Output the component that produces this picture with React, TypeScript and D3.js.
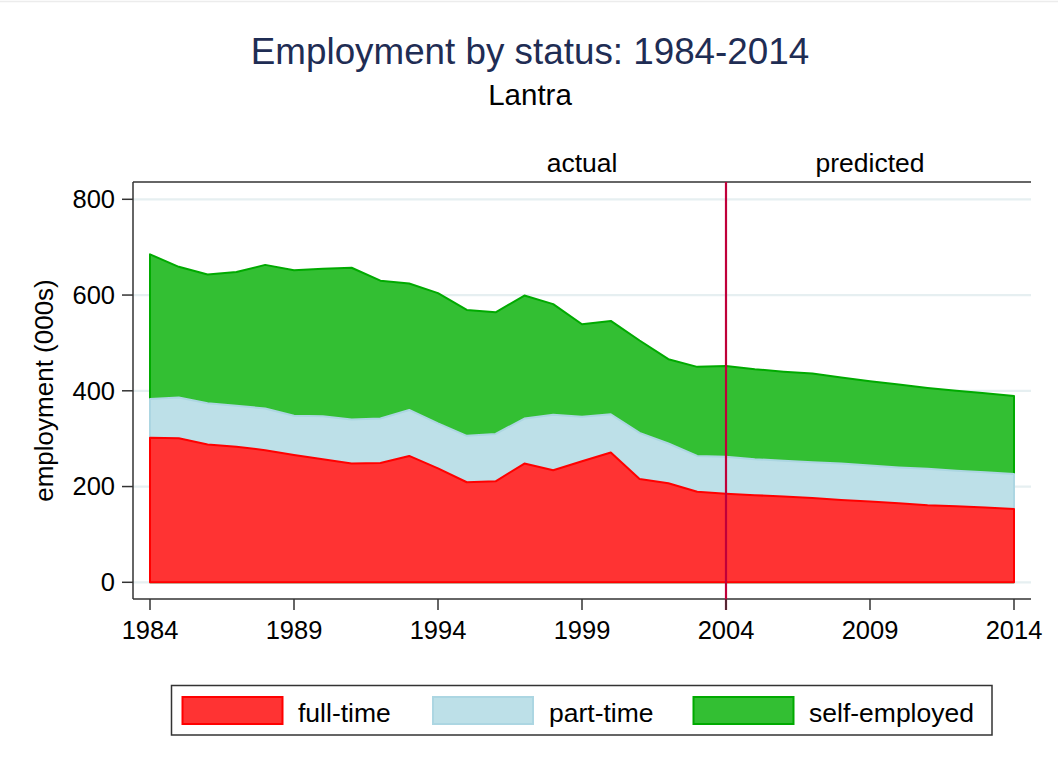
import React from "react";
import * as d3 from "d3";

const years = d3.range(1984, 2015);
const fullTime = [302, 301, 288, 283, 276, 266, 257, 248, 249, 264, 238, 209, 211, 248, 234, 253, 271, 216, 207, 189, 185, 182, 179, 176, 172, 169, 165, 161, 159, 156, 153];
const partTime = [81, 85, 86, 86, 87, 82, 90, 92, 93, 96, 94, 97, 99, 94, 116, 93, 80, 96, 83, 75, 77, 75, 75, 75, 76, 75, 75, 76, 74, 74, 73];
const selfEmployed = [302, 273, 269, 279, 300, 304, 308, 317, 288, 264, 272, 263, 254, 257, 231, 193, 195, 193, 176, 186, 190, 188, 186, 185, 180, 176, 173, 169, 167, 165, 163];
const yTicks = [0, 200, 400, 600, 800];
const xTicks = [1984, 1989, 1994, 1999, 2004, 2009, 2014];
const topLabels = [{ year: 1999, text: "actual" }, { year: 2009, text: "predicted" }];
const splitYear = 2004;

const seriesNames = ["full-time", "part-time", "self-employed"];
const fills = ["#ff3333", "#bde0e8", "#33bf33"];
const strokes = ["#ff0000", "#acd6e2", "#00aa00"];

const FONT = "'Liberation Sans', Arial, Helvetica, sans-serif";

export default function App() {
  const W = 1058, H = 771;
  const left = 133, right = 1031, top = 182, bottom = 599;
  const x = d3.scaleLinear().domain([1984, 2014]).range([150, 1014]);
  const y = d3.scaleLinear().domain([0, 800]).range([582.3, 199.3]);

  const cumFT = fullTime;
  const cumPT = fullTime.map((v, i) => v + partTime[i]);
  const cumSE = cumPT.map((v, i) => v + selfEmployed[i]);
  const layers = [cumFT, cumPT, cumSE];

  const area = d3.area<number>()
    .x((_, i) => x(years[i]))
    .y0(() => y(0))
    .y1((d) => y(d));

  const legendItems = [
    { sx: 182.5, tx: 298 },
    { sx: 433, tx: 549 },
    { sx: 693.5, tx: 809 },
  ];

  return (
    <svg width={W} height={H} style={{ position: "absolute", left: 0, top: 0, background: "#fff" }} fontFamily={FONT}>
      <rect x={0} y={0} width={W} height={H} fill="#fff" />
      <line x1={0} x2={W} y1={1.5} y2={1.5} stroke="#ececec" strokeWidth={1.5} />
      <text x={530} y={64} textAnchor="middle" fontSize={36.8} fill="#1f2d54">Employment by status: 1984-2014</text>
      <text x={530} y={105} textAnchor="middle" fontSize={29.5} fill="#000">Lantra</text>

      {/* gridlines */}
      {yTicks.map((t) => (
        <line key={"g" + t} x1={left} x2={right} y1={y(t)} y2={y(t)} stroke="#e6eff1" strokeWidth={2.2} />
      ))}

      {/* areas, back to front */}
      {[2, 1, 0].map((k) => (
        <path key={"a" + k} d={area(layers[k]) || ""} fill={fills[k]} stroke={strokes[k]} strokeWidth={2} strokeLinejoin="round" />
      ))}

      {/* frame / axes */}
      <line x1={left} x2={right} y1={top} y2={top} stroke="#333" strokeWidth={1.5} />
      <line x1={left} x2={right} y1={bottom} y2={bottom} stroke="#333" strokeWidth={1.5} />
      <line x1={left} x2={left} y1={top} y2={bottom} stroke="#333" strokeWidth={1.5} />

      {/* split line */}
      <line x1={x(splitYear)} x2={x(splitYear)} y1={top} y2={610} stroke="#c0003a" strokeWidth={2.2} />

      {/* y ticks */}
      {yTicks.map((t) => (
        <g key={"y" + t}>
          <line x1={122} x2={left} y1={y(t)} y2={y(t)} stroke="#333" strokeWidth={1.5} />
          <text x={115} y={y(t)} dy="0.35em" textAnchor="end" fontSize={25.5} fill="#000">{t}</text>
        </g>
      ))}
      <text transform={`translate(53,${(top + bottom) / 2}) rotate(-90)`} textAnchor="middle" fontSize={26} fill="#000">employment (000s)</text>

      {/* x ticks */}
      {xTicks.map((t) => (
        <g key={"x" + t}>
          <line x1={x(t)} x2={x(t)} y1={bottom} y2={610} stroke="#333" strokeWidth={1.5} />
          <text x={x(t)} y={639} textAnchor="middle" fontSize={25.5} fill="#000">{t}</text>
        </g>
      ))}

      {/* top labels */}
      {topLabels.map((l) => (
        <text key={l.text} x={x(l.year)} y={171.5} textAnchor="middle" fontSize={26.5} fill="#000">{l.text}</text>
      ))}

      {/* legend */}
      <rect x={171.5} y={685.5} width={820.5} height={49.5} fill="#fff" stroke="#333" strokeWidth={1.5} />
      {legendItems.map((it, k) => (
        <g key={"l" + k}>
          <rect x={it.sx} y={697} width={100} height={27} fill={fills[k]} stroke={strokes[k]} strokeWidth={2} />
          <text x={it.tx} y={721.5} fontSize={26.5} fill="#000">{seriesNames[k]}</text>
        </g>
      ))}
    </svg>
  );
}
